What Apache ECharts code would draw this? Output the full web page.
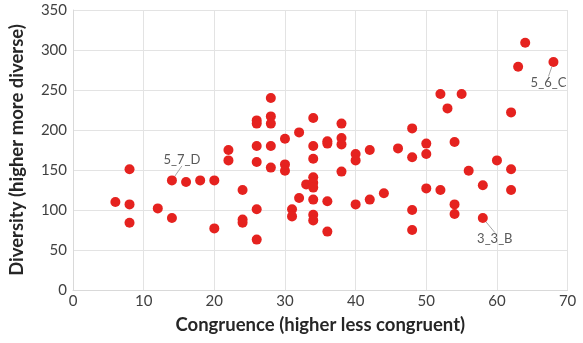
<!DOCTYPE html>
<html>
<head>
<meta charset="utf-8">
<script src="https://cdn.jsdelivr.net/npm/echarts@6/dist/echarts.min.js"></script>
<style>
  html, body { margin: 0; padding: 0; background: #fff; }
  #chart { width: 583px; height: 343px; }
</style>
</head>
<body>
<div id="chart"></div>
<script>
// congruence (x) / diversity (y) per point
var congruence = [6, 8, 8, 8, 12, 14, 16, 18, 20, 20, 22, 22, 24, 24, 24,
  26, 26, 26, 26, 26, 26, 28, 28, 28, 28, 28, 30, 30, 30, 31, 31, 32, 32, 33,
  34, 34, 34, 34, 34, 34, 34, 34, 34, 36, 36, 36, 36, 38, 38, 38, 38,
  40, 40, 40, 42, 42, 44, 46, 48, 48, 48, 48, 50, 50, 50, 52, 52, 53,
  54, 54, 54, 55, 56, 58, 60, 62, 62, 62, 63, 64];
var diversity = [110, 151, 107, 84, 102, 90, 135, 137, 137, 77, 175, 162, 125, 88, 84,
  212, 208, 180, 160, 101, 63, 240, 217, 208, 180, 153, 189, 157, 149, 101, 92, 197, 115, 132,
  215, 180, 164, 141, 134, 128, 113, 94, 87, 186, 183, 111, 73, 208, 190, 182, 148,
  170, 162, 107, 175, 113, 121, 177, 202, 166, 100, 75, 183, 170, 127, 245, 125, 227,
  185, 107, 95, 245, 149, 131, 162, 222, 151, 125, 279, 309];

// labelled points
var labelX = [14, 68, 58];
var labelY = [137, 285, 90];
var labelText = ["5_7_D", "5_6_C", "3_3_B"];
var labelShift = [[10, -21], [-5, 21], [12, 21]];

var myChart = echarts.init(document.getElementById("chart"));

var plain = congruence.map(function (x, i) { return [x, diversity[i]]; });
var tagged = labelX.map(function (x, i) {
  return { value: [x, labelY[i]], name: labelText[i] };
});

var font = "Lato, 'Noto Sans', sans-serif";
var option = {
  animation: false,
  grid: { left: 72.6, right: 15.4, top: 10, bottom: 53 },
  xAxis: {
    type: "value",
    min: 0,
    max: 70,
    interval: 10,
    name: "Congruence (higher less congruent)",
    nameLocation: "middle",
    nameGap: 26,
    nameTextStyle: { fontFamily: font, fontSize: 18.5, fontWeight: "bold", color: "#262626" },
    axisLine: { show: true, lineStyle: { color: "#d9d9d9" } },
    axisTick: { show: false },
    axisLabel: { fontFamily: font, fontSize: 15, color: "#404040", margin: 4 },
    splitLine: { show: true, lineStyle: { color: "#e3e3e3" } }
  },
  yAxis: {
    type: "value",
    min: 0,
    max: 350,
    interval: 50,
    name: "Diversity (higher more diverse)",
    nameLocation: "middle",
    nameGap: 46,
    nameTextStyle: { fontFamily: font, fontSize: 18.5, fontWeight: "bold", color: "#262626" },
    axisLine: { show: true, lineStyle: { color: "#d9d9d9" } },
    axisTick: { show: false },
    axisLabel: { fontFamily: font, fontSize: 15, color: "#404040", margin: 6 },
    splitLine: { show: true, lineStyle: { color: "#e3e3e3" } }
  },
  series: [
    {
      type: "scatter",
      data: plain,
      symbolSize: 10,
      itemStyle: { color: "#e5221f", opacity: 1 }
    },
    {
      type: "scatter",
      data: tagged,
      symbolSize: 10,
      itemStyle: { color: "#e5221f", opacity: 1 },
      label: {
        show: true,
        formatter: "{b}",
        position: "inside",
        fontFamily: font,
        fontSize: 13,
        color: "#595959"
      },
      labelLayout: function (params) {
        var s = labelShift[params.dataIndex];
        return { dx: s[0], dy: s[1] };
      },
      labelLine: { show: true, lineStyle: { color: "#a6a6a6", width: 1 } }
    }
  ]
};
myChart.setOption(option);
window.addEventListener("resize", () => {
  myChart.resize();
});
</script>
</body>
</html>
